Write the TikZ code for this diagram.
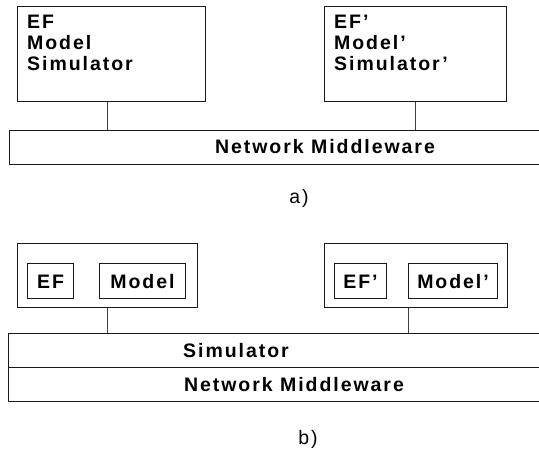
\documentclass[tikz,border=0pt]{standalone}
\usepackage{fontspec}
\newfontfamily\diafont{Liberation Sans}[LetterSpace=10]
\begin{document}
\begin{tikzpicture}[x=1pt,y=-1pt,
  box/.style={draw=black!90,line width=1pt,rectangle,inner sep=0pt,anchor=north west},
  lbl/.style={inner sep=0pt,font=\diafont\bfseries\fontsize{19.5}{21}\selectfont},
  partlabel/.style={inner sep=0pt,anchor=base,font=\diafont\fontsize{19.5}{21}\selectfont},
  link/.style={draw=black!75,line width=0.8pt}]
\useasboundingbox (0,0) rectangle (539,450);

% ---------- a) ----------
\node[box,minimum width=188pt,minimum height=95pt] (ta) at (17,6) {};
\node[box,minimum width=182pt,minimum height=95pt] (tb) at (324,6) {};
\node[lbl,align=left,anchor=north west] (tat) at (27,15) {EF\\Model\\Simulator};
\node[lbl,align=left,anchor=north west] (tbt) at (334,15) {EF’\\Model’\\Simulator’};
\node[box,minimum width=640pt,minimum height=34pt] (mwa) at (8.5,129.5) {};
\node[lbl,anchor=base] (mwat) at (325,153) {Network Middleware};
\coordinate (ca) at (107,0);
\coordinate (cb) at (415,0);
\draw[link] (ta.south -| ca) -- (mwa.north -| ca);
\draw[link] (tb.south -| cb) -- (mwa.north -| cb);
\node[partlabel] (la) at (299,203) {a)};

% ---------- b) ----------
\node[box,minimum width=180pt,minimum height=64pt] (ba) at (17,243) {};
\node[box,minimum width=183pt,minimum height=64pt] (bb) at (324,243) {};
\node[box,minimum width=46pt,minimum height=35pt] (efa) at (27,263) {};
\node[box,minimum width=86pt,minimum height=35pt] (moa) at (99,263) {};
\node[box,minimum width=52pt,minimum height=35pt] (efb) at (334,263) {};
\node[box,minimum width=89pt,minimum height=35pt] (mob) at (408,263) {};
\node[lbl,anchor=base] (efat) at ([yshift=-7pt]efa.center) {EF};
\node[lbl,anchor=base] (moat) at ([yshift=-7pt]moa.center) {Model};
\node[lbl,anchor=base] (efbt) at ([yshift=-7pt]efb.center) {EF’};
\node[lbl,anchor=base] (mobt) at ([yshift=-7pt]mob.center) {Model’};
\node[box,minimum width=640pt,minimum height=34pt] (sim) at (8,333) {};
\node[box,minimum width=640pt,minimum height=33.5pt] (mwb) at (8,367) {};
\node[lbl,anchor=base] (simt) at (236,357) {Simulator};
\node[lbl,anchor=base] (mwbt) at (294,391) {Network Middleware};
\coordinate (cc) at (107,0);
\coordinate (cd) at (408,0);
\draw[link] (ba.south -| cc) -- (sim.north -| cc);
\draw[link] (bb.south -| cd) -- (sim.north -| cd);
\node[partlabel] (lb) at (308,444) {b)};
\end{tikzpicture}
\end{document}
